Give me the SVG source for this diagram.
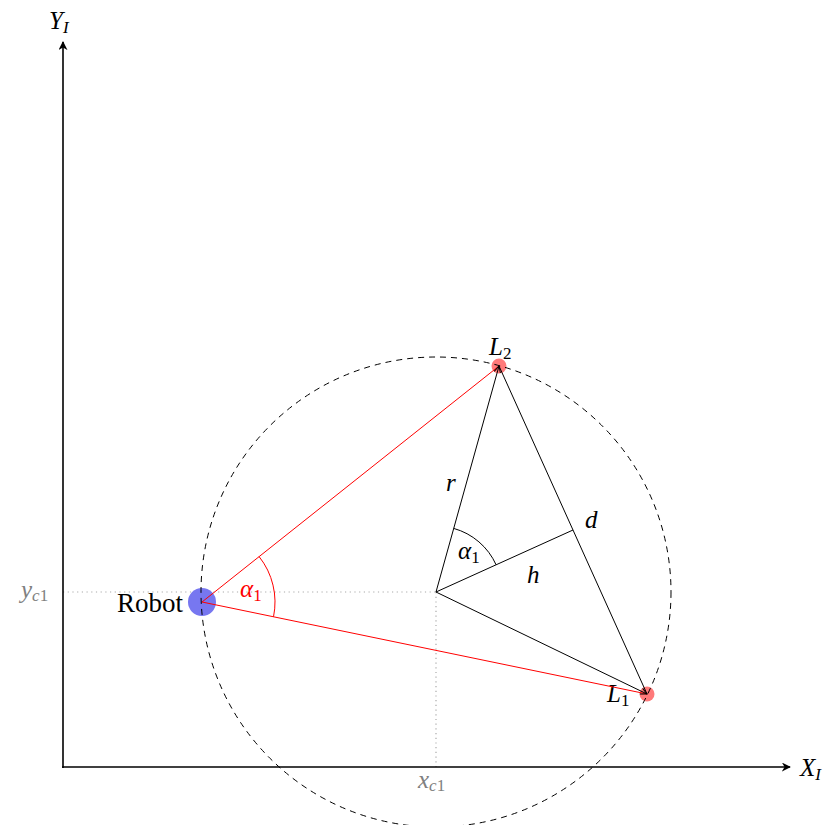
<svg xmlns="http://www.w3.org/2000/svg" width="835" height="825" viewBox="0 0 835 825">
<style>
.m{font-family:"Liberation Serif","DejaVu Serif",serif;font-style:italic;font-size:25px}
.s{font-size:17px}
.rm{font-family:"Liberation Serif","DejaVu Serif",serif;font-size:27px}
.g{fill:#808080}
.ax{stroke:#000;stroke-width:1.6;fill:none}
.ln{stroke:#000;stroke-width:1;fill:none}
.red{stroke:#ff0000;stroke-width:1;fill:none}
.dot{stroke:#aaaaaa;stroke-width:1.2;stroke-dasharray:1.2 3.5;fill:none}
</style>
<defs>
<marker id="ah" viewBox="0 0 10 10" refX="9" refY="5" markerWidth="9" markerHeight="9" markerUnits="userSpaceOnUse" orient="auto">
<path d="M0,0 L10,5 L0,10 L3,5 Z" fill="#000"/>
</marker>
<marker id="at" viewBox="0 0 10 10" refX="9" refY="5" markerWidth="8" markerHeight="8" markerUnits="userSpaceOnUse" orient="auto">
<path d="M1,1 L9,5 L1,9" fill="none" stroke="#000" stroke-width="1.2"/>
</marker>
</defs>
<rect width="835" height="825" fill="#fff"/>
<g id="guides">
<line class="dot" x1="63" y1="592" x2="436" y2="592"/>
<line class="dot" x1="436" y1="592" x2="436" y2="767"/>
</g>
<g id="robot">
<circle cx="202" cy="602" r="14" fill="#7777f0"/>
<text class="rm" x="183" y="612" text-anchor="end">Robot</text>
</g>
<g id="L2">
<circle cx="499" cy="366" r="7.5" fill="#ff7a7a"/>
<text class="m" x="489" y="355">L<tspan class="s" font-style="normal" dy="4">2</tspan></text>
</g>
<g id="L1">
<circle cx="647" cy="694" r="7.5" fill="#ff7a7a"/>
<text class="m" x="607" y="702">L<tspan class="s" font-style="normal" dy="4">1</tspan></text>
</g>
<g id="circle">
<circle cx="436" cy="592" r="235" fill="none" stroke="#000" stroke-width="1" stroke-dasharray="6 5"/>
</g>
<g id="axes">
<line class="ax" x1="63" y1="768" x2="63" y2="42" marker-end="url(#ah)"/>
<line class="ax" x1="62" y1="767" x2="790" y2="767" marker-end="url(#ah)"/>
<text class="m" x="49" y="29">Y<tspan class="s" dy="4">I</tspan></text>
<text class="m" x="800" y="776">X<tspan class="s" dy="4">I</tspan></text>
<text class="m g" x="21" y="598">y<tspan class="s" dy="3">c</tspan><tspan class="s" font-style="normal">1</tspan></text>
<text class="m g" x="418" y="788">x<tspan class="s" dy="3">c</tspan><tspan class="s" font-style="normal">1</tspan></text>
</g>
<g id="connectors">
<line class="red" x1="202" y1="602" x2="499" y2="366"/>
<line class="red" x1="202" y1="602" x2="647" y2="694"/>
<path class="red" d="M259.1,556.6 A73,73 0 0 1 273.5,616.8"/>
<line class="ln" x1="436" y1="592" x2="499" y2="366" marker-end="url(#at)"/>
<line class="ln" x1="436" y1="592" x2="647" y2="694" marker-end="url(#at)"/>
<line class="ln" x1="499" y1="366" x2="647" y2="694"/>
<line class="ln" x1="436" y1="592" x2="573" y2="530"/>
<path class="ln" d="M453.7,528.4 A66,66 0 0 1 496.1,564.8"/>
</g>
<g id="labels">
<text class="m" x="240" y="597" fill="#ff0000">α<tspan class="s" font-style="normal" dy="4">1</tspan></text>
<text class="m" x="458" y="559">α<tspan class="s" font-style="normal" dy="4">1</tspan></text>
<text class="m" x="446" y="491">r</text>
<text class="m" x="585" y="528">d</text>
<text class="m" x="527" y="583">h</text>
</g>
</svg>
